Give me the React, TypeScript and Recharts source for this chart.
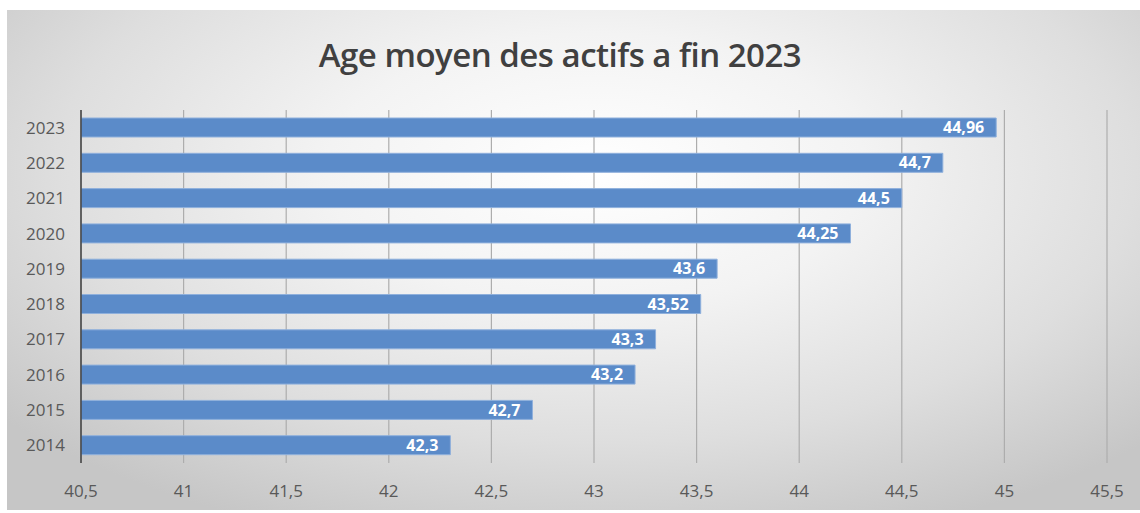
import React from "react";
import { BarChart, Bar, XAxis, YAxis, CartesianGrid, LabelList } from "recharts";

const years = ["2023", "2022", "2021", "2020", "2019", "2018", "2017", "2016", "2015", "2014"];
const ages = [44.96, 44.7, 44.5, 44.25, 43.6, 43.52, 43.3, 43.2, 42.7, 42.3];
const xTicks = [40.5, 41, 41.5, 42, 42.5, 43, 43.5, 44, 44.5, 45, 45.5];
const title = "Age moyen des actifs a fin 2023";

const data = years.map((y, i) => ({ year: y, age: ages[i] }));
const fmt = (v: any) => String(v).replace(".", ",");

export default function App() {
  return (
    <div
      style={{
        position: "absolute",
        left: 0,
        top: 0,
        width: 1140,
        height: 513,
        background: "#ffffff",
        fontFamily: "'Open Sans', sans-serif",
        overflow: "hidden",
      }}
    >
      <div
        style={{
          position: "absolute",
          left: 7,
          top: 10,
          width: 1133,
          height: 500,
          background:
            "radial-gradient(ellipse 68% 78% at 52% 32%, #ffffff 0%, #f3f3f3 35%, #dedede 70%, #c6c6c6 100%)",
        }}
      />
      <div
        style={{
          position: "absolute",
          left: 0,
          width: 1120,
          top: 32,
          textAlign: "center",
          fontSize: 33,
          fontWeight: 600,
          color: "#404040",
          letterSpacing: -0.5,
        }}
      >
        {title}
      </div>
      <div style={{ position: "absolute", left: 0, top: 0 }}>
        <BarChart
          width={1140}
          height={513}
          data={data}
          layout="vertical"
          margin={{ top: 110, right: 33, bottom: 10, left: 25 }}
        >
          <CartesianGrid horizontal={false} vertical={true} stroke="#adadad" strokeWidth={1.2} />
          <XAxis
            type="number"
            domain={[40.5, 45.5]}
            ticks={xTicks}
            tickFormatter={fmt}
            axisLine={false}
            tickLine={false}
            tickMargin={16}
            height={40}
            interval={0}
            allowDataOverflow
            tick={{ fill: "#595959", fontSize: 17 }}
          />
          <YAxis
            type="category"
            dataKey="year"
            width={56}
            axisLine={{ stroke: "#404040", strokeWidth: 1.5 }}
            tickLine={false}
            tickMargin={10}
            tick={{ fill: "#595959", fontSize: 17 }}
          />
          <Bar dataKey="age" fill="#5b8bc9" stroke="#8fb0dc" strokeWidth={1} barSize={19} isAnimationActive={false}>
            <LabelList
              dataKey="age"
              position="insideRight"
              offset={12}
              formatter={fmt}
              style={{ fill: "#ffffff", fontSize: 16, fontWeight: 700 }}
            />
          </Bar>
        </BarChart>
      </div>
    </div>
  );
}
